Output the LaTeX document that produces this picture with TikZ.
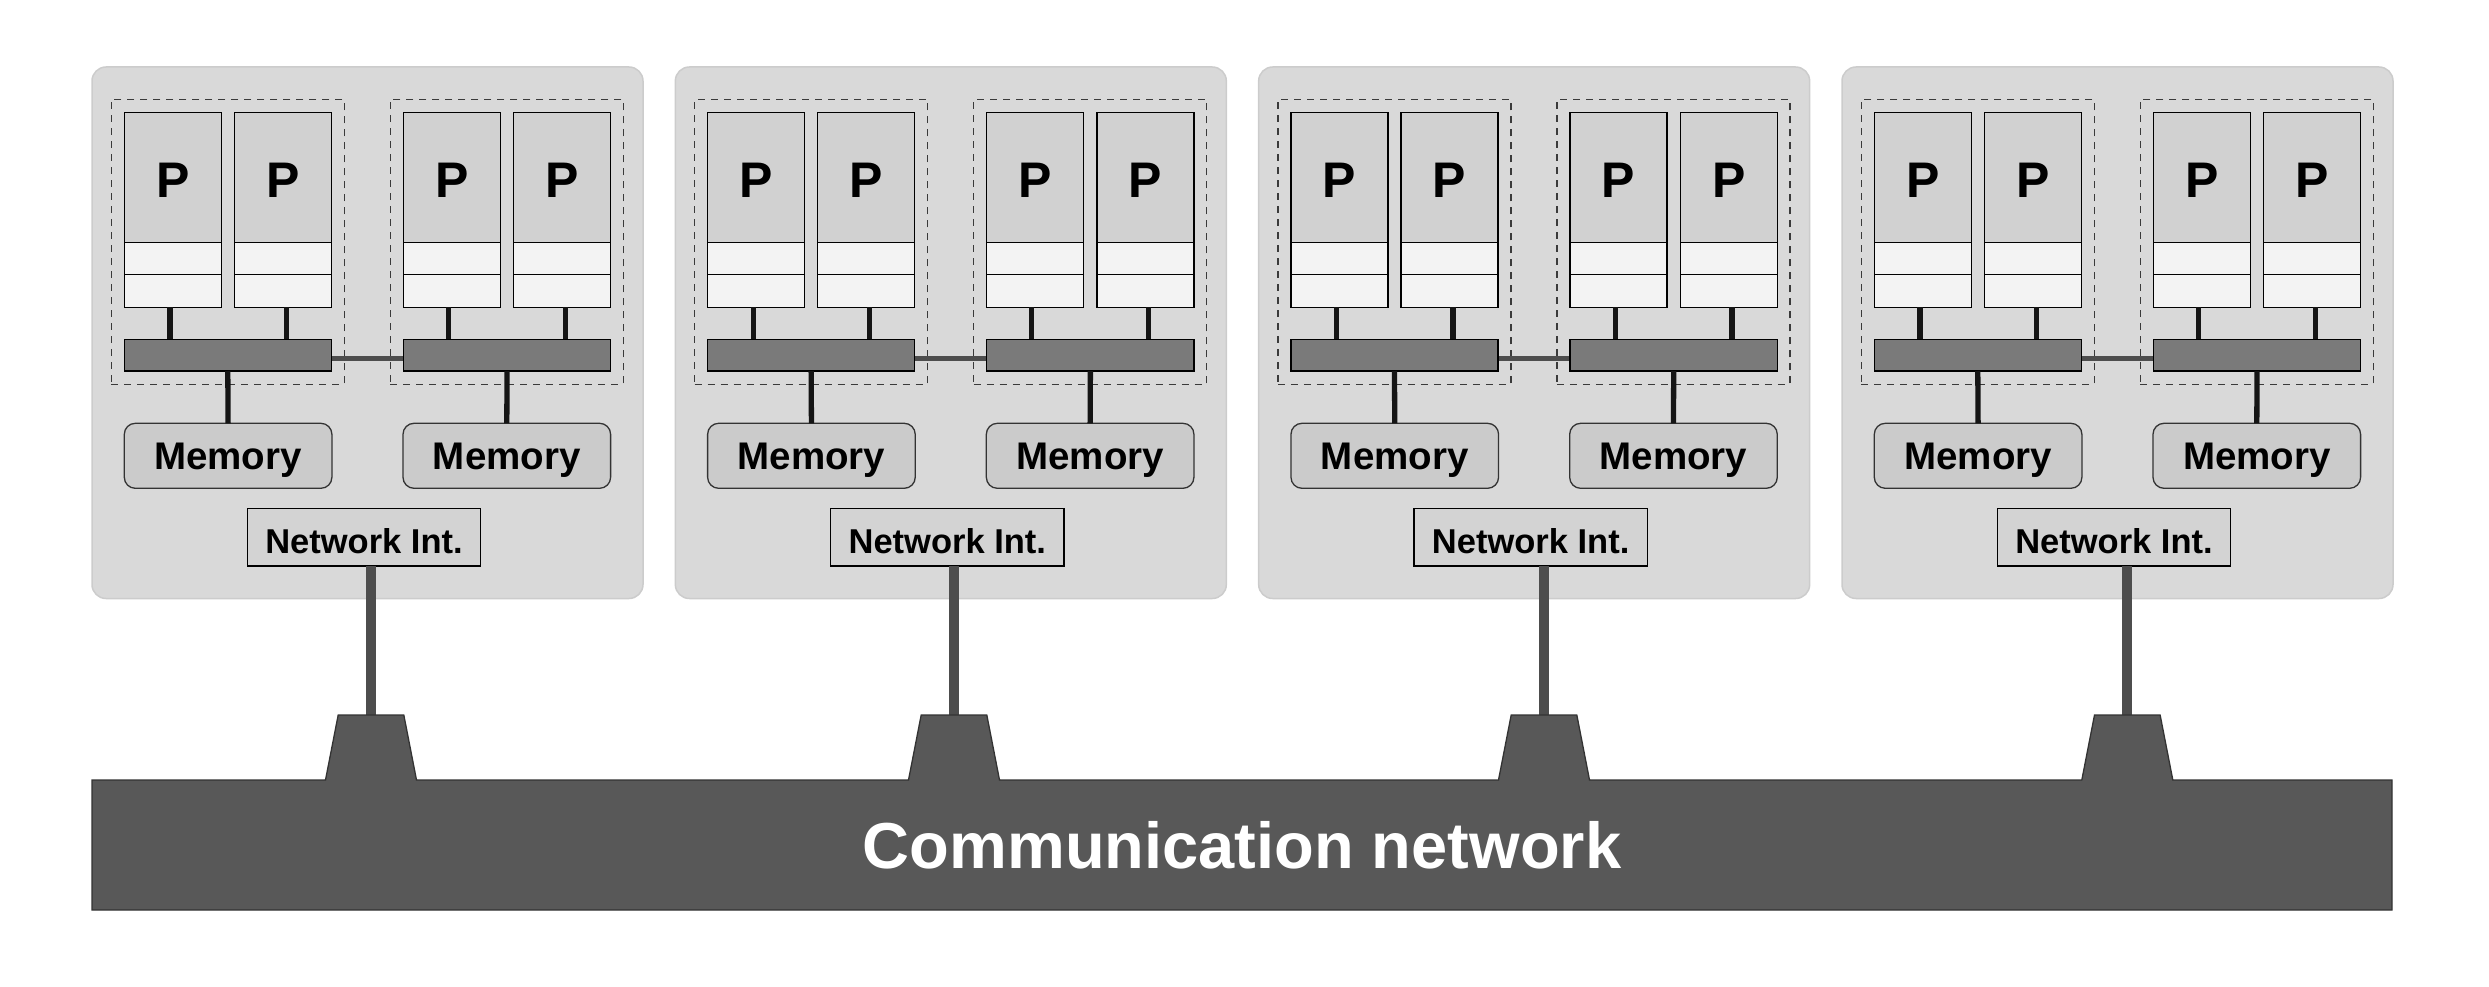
\documentclass[tikz,border=0pt]{standalone}
\usepackage{fontspec}
\setmainfont{Liberation Sans}
\definecolor{boxbg}{HTML}{D9D9D9}
\definecolor{boxedge}{HTML}{CCCCCC}
\definecolor{ptopc}{HTML}{D1D1D1}
\definecolor{cellc}{HTML}{F3F3F3}
\definecolor{busfill}{HTML}{7A7A7A}
\definecolor{memfill}{HTML}{CBCBCB}
\definecolor{nifill}{HTML}{D3D3D3}
\definecolor{linkgray}{HTML}{4D4D4D}
\definecolor{netfill}{HTML}{585858}
\definecolor{netedge}{HTML}{333333}
\definecolor{dashgray}{HTML}{3A3A3A}
\definecolor{conncol}{HTML}{151515}
\begin{document}
\begin{tikzpicture}[x=1pt,y=-1pt,
  fixbox/.style={anchor=north west, inner sep=0pt, outer sep=0pt},
  nodebox/.style={fixbox, fill=boxbg, draw=boxedge, line width=1.5pt, rounded corners=14pt, minimum width=551pt, minimum height=531.5pt},
  grp/.style={fixbox, draw=dashgray, line width=1.3pt, dash pattern=on 7pt off 6pt, minimum width=233pt, minimum height=285pt},
  ptopst/.style={fixbox, fill=ptopc, draw=black, line width=1.3pt, minimum width=97pt, minimum height=130pt, font=\bfseries\fontsize{50pt}{60pt}\selectfont, text height=39.4pt, text depth=0pt},
  pcell/.style={fixbox, fill=cellc, draw=black, line width=1.3pt, minimum width=97pt},
  busst/.style={fixbox, fill=busfill, draw=black, line width=1.5pt, minimum height=31.7pt},
  memst/.style={fixbox, fill=memfill, draw=netedge, line width=1.3pt, rounded corners=11pt, minimum width=207.6pt, minimum height=65pt, font=\bfseries\fontsize{38.5pt}{46pt}\selectfont, text height=27.6pt, text depth=0pt},
  nist/.style={fixbox, fill=nifill, draw=black, line width=1.5pt, minimum width=233.4pt, minimum height=57.7pt, font=\bfseries\fontsize{34.5pt}{42pt}\selectfont, text height=32.7pt, text depth=0pt},
  connst/.style={draw=conncol, line width=5.3pt},
  linkst/.style={draw=linkgray, line width=5.3pt},
  nilinest/.style={draw=linkgray, line width=10pt},
  netst/.style={fill=netfill, draw=netedge, line width=1.3pt},
  nettext/.style={font=\bfseries\fontsize{65pt}{78pt}\selectfont, text=white, text height=46.5pt, text depth=0pt, inner sep=0pt}
]
\useasboundingbox (0,0) rectangle (2489,987);
\foreach \i/\lx in {1/371,2/954,3/1544,4/2127.3}{
  \pgfmathsetmacro{\bx}{92+(\i-1)*583.33}
  \node[nodebox] (box\i) at (\bx,67) {};
  \node[grp] (gl\i) at (\bx+19.3,99.3) {};
  \node[grp] (gr\i) at (\bx+298.3,99.3) {};
  \foreach \j/\off in {a/32.3,b/142.3,c/311.4,d/421.6}{
    \node[ptopst] (p\j\i) at (\bx+\off,112.3) {P};
    \node[pcell, minimum height=32pt] (m\j\i) at (\bx+\off,242.3) {};
    \node[pcell, minimum height=33pt] (c\j\i) at (\bx+\off,274.3) {};
  }
  \draw[linkst] (\bx+239.3,358.7) -- (\bx+311.4,358.7);
  \node[busst, minimum width=207pt] (bl\i) at (\bx+32.3,339.3) {};
  \node[busst, minimum width=207.3pt] (br\i) at (\bx+311.4,339.3) {};
  \foreach \j/\cx/\bs in {a/78/bl,b/194.3/bl,c/356.5/br,d/473.3/br}{
    \coordinate (k\j\i) at (\bx+\cx,0);
    \draw[connst] (c\j\i.south -| k\j\i) -- (\bs\i.north -| k\j\i);
  }
  \node[memst] (ml\i) at (\bx+32.3,423.3) {Memory};
  \node[memst] (mr\i) at (\bx+311,423.3) {Memory};
  \draw[connst] (bl\i.south) -- (ml\i.north);
  \draw[connst] (br\i.south) -- (mr\i.north);
  \node[nist] (ni\i) at (\bx+155.3,508.3) {Network Int.};
  \coordinate (tap\i) at (\lx,715);
  \draw[nilinest] (ni\i.south -| tap\i) -- (tap\i);
}
\draw[netst] (92,780) -- (325.5,780) -- (338.2,715) -- (403.8,715) -- (416.5,780)
  -- (908.5,780) -- (921.2,715) -- (986.8,715) -- (999.5,780)
  -- (1498.5,780) -- (1511.2,715) -- (1576.8,715) -- (1589.5,780)
  -- (2081.8,780) -- (2094.5,715) -- (2160.1,715) -- (2172.8,780)
  -- (2392,780) -- (2392,910) -- (92,910) -- cycle;
\node[nettext] (net) at (1242,845) {Communication network};
\end{tikzpicture}
\end{document}
